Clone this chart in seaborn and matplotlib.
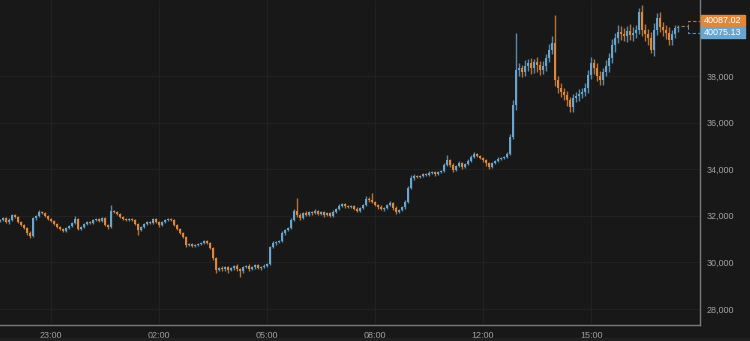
import numpy as np
import pandas as pd
import matplotlib
matplotlib.use("Agg")
import matplotlib.pyplot as plt
import seaborn as sns
from matplotlib.patches import Rectangle
from matplotlib.lines import Line2D

# ---------------- data (5-minute candles) ----------------
first_open = 31780
closes = [
    31820, 31900, 31730, 31820, 32030, 31950, 31730, 31600, 31480, 31260,
    31130, 31900, 31990, 32160, 32120, 31990, 31860, 31780, 31650, 31520,
    31430, 31350, 31480, 31560, 31690, 31860, 31430, 31520, 31650, 31730,
    31690, 31820, 31860, 31780, 31900, 31600, 31520, 32210, 32160, 32080,
    31950, 31860, 31820, 31860, 31820, 31650, 31390, 31520, 31650, 31730,
    31690, 31860, 31730, 31600, 31730, 31820, 31860, 31820, 31600, 31430,
    31260, 31090, 30750, 30790, 30700, 30750, 30790, 30830, 30920, 30830,
    30620, 30190, 29670, 29760, 29720, 29800, 29670, 29760, 29850, 29720,
    29630, 29800, 29850, 29720, 29800, 29890, 29760, 29800, 29850, 29930,
    30660, 30830, 30880, 30920, 31260, 31390, 31480, 31820, 32210, 32030,
    31900, 32120, 32030, 32160, 32120, 32210, 32080, 32160, 32030, 32120,
    31990, 32160, 32290, 32420, 32510, 32420, 32380, 32420, 32290, 32210,
    32340, 32460, 32720, 32680, 32590, 32460, 32380, 32290, 32340, 32460,
    32550, 32340, 32160, 32250, 32380, 32590, 33190, 33620, 33710, 33670,
    33710, 33790, 33750, 33840, 33880, 33790, 33880, 33920, 34180, 34390,
    34180, 33970, 34140, 34270, 34090, 34220, 34350, 34520, 34650, 34570,
    34480, 34390, 34270, 34090, 34270, 34350, 34440, 34480, 34520, 34650,
    35380, 36750, 38260, 38340, 38170, 38430, 38560, 38340, 38600, 38470,
    38260, 38430, 38770, 39120, 39420, 37830, 37490, 37310, 37180, 36970,
    36670, 37060, 37140, 37230, 37310, 37490, 38040, 38560, 38340, 38000,
    37830, 38170, 38430, 38770, 39330, 39630, 39890, 39800, 39720, 39930,
    39760, 39850, 39970, 40750, 39970, 39800, 39630, 39120, 39970, 40490,
    40100, 39970, 39850, 39550, 39800, 40060, 40087,
]
up_wick = [
    60, 40, 50, 80, 60, 40, 50, 30, 60, 40,
    80, 60, 50, 70, 40, 50, 30, 40, 60, 30,
    40, 50, 30, 60, 40, 120, 50, 40, 60, 30,
    50, 40, 60, 30, 50, 40, 60, 240, 50, 40,
    30, 50, 40, 60, 30, 40, 50, 60, 40, 30,
    50, 40, 60, 50, 30, 40, 60, 50, 30, 40,
    30, 40, 60, 50, 40, 60, 30, 50, 40, 60,
    40, 30, 60, 50, 70, 40, 60, 50, 40, 60,
    50, 60, 40, 70, 50, 60, 40, 50, 60, 40,
    60, 80, 50, 60, 90, 50, 60, 80, 70, 550,
    70, 50, 90, 60, 40, 70, 50, 60, 40, 50,
    60, 80, 50, 70, 60, 40, 50, 60, 40, 70,
    50, 60, 140, 80, 310, 50, 60, 70, 40, 60,
    70, 50, 60, 40, 60, 80, 90, 120, 70, 60,
    50, 60, 40, 70, 50, 60, 50, 60, 80, 220,
    60, 70, 50, 80, 60, 50, 70, 80, 90, 60,
    50, 60, 40, 50, 60, 50, 70, 60, 50, 80,
    120, 200, 1590, 200, 150, 250, 180, 220, 150, 200,
    160, 220, 180, 250, 300, 1200, 150, 200, 180, 160,
    150, 180, 160, 200, 180, 220, 200, 250, 180, 200,
    220, 180, 250, 200, 260, 220, 300, 250, 280, 200,
    300, 260, 220, 170, 280, 250, 200, 260, 300, 200,
    250, 220, 200, 260, 180, 150, 120,
]
down_wick = [
    50, 60, 40, 70, 50, 60, 40, 50, 60, 80,
    90, 50, 60, 40, 50, 60, 40, 50, 60, 40,
    60, 50, 40, 60, 50, 40, 60, 50, 40, 50,
    40, 60, 50, 40, 60, 50, 80, 40, 60, 50,
    40, 60, 50, 40, 60, 50, 200, 60, 40, 50,
    60, 40, 50, 60, 40, 50, 40, 60, 50, 40,
    50, 60, 80, 60, 50, 40, 60, 50, 60, 40,
    50, 80, 120, 60, 100, 70, 120, 60, 80, 90,
    250, 70, 60, 90, 50, 80, 60, 70, 50, 60,
    60, 50, 70, 60, 50, 70, 60, 50, 60, 70,
    60, 50, 40, 60, 70, 50, 60, 40, 70, 50,
    60, 50, 40, 60, 50, 70, 40, 60, 50, 40,
    60, 50, 40, 70, 60, 50, 80, 60, 70, 50,
    60, 80, 90, 60, 50, 70, 60, 50, 80, 60,
    50, 60, 40, 50, 60, 70, 50, 40, 60, 50,
    80, 100, 60, 50, 70, 60, 50, 40, 60, 50,
    60, 70, 120, 90, 60, 50, 60, 50, 40, 60,
    60, 80, 200, 250, 220, 180, 200, 250, 200, 300,
    220, 180, 200, 150, 180, 250, 200, 220, 200, 260,
    210, 200, 180, 220, 180, 160, 200, 180, 250, 220,
    200, 220, 180, 250, 200, 280, 220, 250, 200, 260,
    220, 250, 200, 180, 260, 300, 280, 130, 250, 200,
    220, 260, 250, 200, 220, 180, 150,
]
x_tick_pos = [17, 53, 89, 125, 161, 197]
x_tick_labels = ["23:00", "02:00", "05:00", "08:00", "12:00", "15:00"]
y_ticks = [28000, 30000, 32000, 34000, 36000, 38000]
y_tick_labels = ["28,000", "30,000", "32,000", "34,000", "36,000", "38,000"]
ask_label = "40087.02"
bid_label = "40075.13"

assert len(closes) == len(up_wick) == len(down_wick), (len(closes), len(up_wick), len(down_wick))

# ---------------- style ----------------
BG = "#181818"
UP = "#68a6d0"
DOWN = "#e08838"
sns.set_theme(style="dark", rc={
    "axes.facecolor": BG, "figure.facecolor": BG,
    "grid.color": "#212121", "grid.linewidth": 0.8,
    "axes.edgecolor": "#7a7a7a",
})
plt.rcParams["font.family"] = ["Liberation Sans", "DejaVu Sans"]

df = pd.DataFrame({"close": closes, "upw": up_wick, "dnw": down_wick})
df["open"] = [first_open] + closes[:-1]
df["top"] = df[["open", "close"]].max(axis=1)
df["bot"] = df[["open", "close"]].min(axis=1)
df["high"] = df["top"] + df["upw"]
df["low"] = df["bot"] - df["dnw"]
df["color"] = np.where(df["close"] >= df["open"], UP, DOWN)
df["i"] = np.arange(len(df))

fig = plt.figure(figsize=(7.5, 3.41), dpi=100)
ax = fig.add_axes([0, 16 / 341, 700 / 750, 325 / 341])

ax.vlines(df["i"], df["low"], df["high"], colors=df["color"], linewidth=1.0, alpha=0.8)
ax.bar(df["i"], np.maximum(df["top"] - df["bot"], 55), bottom=df["bot"],
       width=0.88, color=df["color"], linewidth=0)

ax.set_xlim(0.0, 233.3)
ax.set_ylim(27313, 41262)
ax.set_xticks(x_tick_pos)
ax.set_xticklabels(x_tick_labels)
ax.set_yticks(y_ticks)
ax.set_yticklabels(y_tick_labels)
ax.yaxis.tick_right()
ax.grid(True, color="#212121", linewidth=0.8)
ax.tick_params(axis="y", length=0, pad=5, labelsize=6.5, colors="#a3a3a3")
ax.tick_params(axis="x", length=0, pad=4, labelsize=6.5, colors="#a3a3a3")
for s in ["top", "left"]:
    ax.spines[s].set_visible(False)
for s in ["right", "bottom"]:
    ax.spines[s].set_visible(True)
    ax.spines[s].set_color("#7a7a7a")
    ax.spines[s].set_linewidth(1.0)

# ---------------- last price markers ----------------
def fx(px):
    return px / 750

def fy(py):
    return 1 - py / 341

fig.add_artist(Line2D([fx(681), fx(688), fx(688), fx(700)], [fy(26), fy(26), fy(21), fy(21)],
                      color="#b9773a", linewidth=0.8, linestyle=(0, (3, 2))))
fig.add_artist(Line2D([fx(688), fx(688), fx(700)], [fy(26), fy(33), fy(33)],
                      color="#5b8fb2", linewidth=0.8, linestyle=(0, (3, 2))))
fig.add_artist(Rectangle((fx(701), fy(26)), fx(44), 11 / 341, color="#e08838"))
fig.add_artist(Rectangle((fx(701), fy(38)), fx(44), 11 / 341, color="#68a6d0"))
fig.text(fx(723), fy(20.5), ask_label, color="white", fontsize=6.5, ha="center", va="center")
fig.text(fx(723), fy(32.5), bid_label, color="white", fontsize=6.5, ha="center", va="center")
fig.add_artist(Rectangle((0, 0), 1, 3 / 341, color="#202020"))

fig.savefig("out.png", dpi=100, facecolor=BG)
